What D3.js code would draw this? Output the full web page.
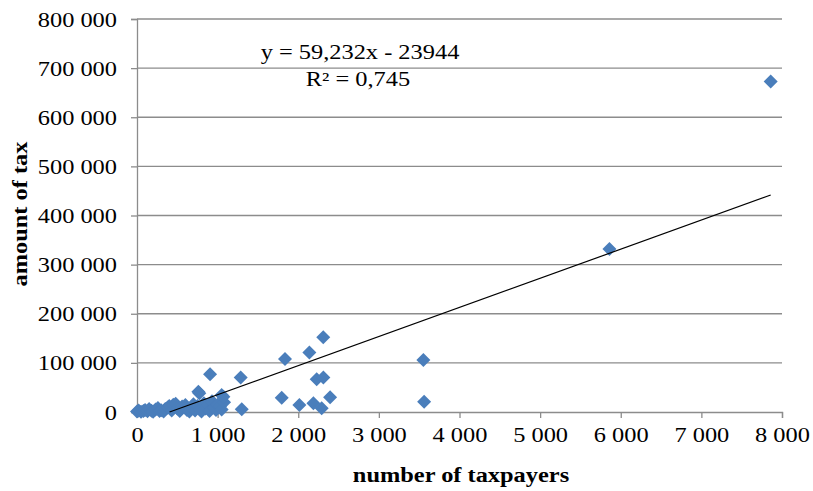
<!DOCTYPE html>
<html><head><meta charset="utf-8">
<script src="https://cdn.jsdelivr.net/npm/d3@7"></script>
<style>body{margin:0;background:#fff}svg{display:block}text{font-family:"Liberation Serif","Times New Roman",serif;fill:#000}</style>
</head><body>
<svg id="c" width="813" height="491"></svg>
<script>
const taxpayers = [0,20,50,80,100,130,150,180,200,230,260,280,300,330,350,380,400,430,450,480,500,530,560,600,620,650,680,700,720,750,780,800,830,850,880,900,930,960,980,1000,1030,1050,1080,
  761,773,906,1050,1071,1286,1299,1795,1836,2014,2138,2188,2229,2291,2312,2310,2395,3552,3561,5860,7860];
const taxAmount = [1000,3000,500,2000,4000,1500,6000,2500,500,5000,8000,2000,3500,1000,6000,9000,12000,3000,15000,17000,7000,2000,11000,14000,4000,1000,8000,16000,3000,12000,5000,1000,18000,7000,14000,2000,22000,9000,4000,15000,12000,5000,20000,
  41000,38000,77000,34500,31000,70000,5500,29000,108000,14300,121000,17700,66500,7500,70000,152000,30000,106000,21000,332000,673000];
const xTicks = [0,1000,2000,3000,4000,5000,6000,7000,8000];
const yTicks = [0,100000,200000,300000,400000,500000,600000,700000,800000];
const slope = 59.232, intercept = -23944;
const eqText = "y = 59,232x - 23944";
const r2Text = "R² = 0,745";
const xTitle = "number of taxpayers", yTitle = "amount of tax";

const SX = 1.22, FS = 20;
const svg = d3.select("#c");
const x = d3.scaleLinear().domain([0,8000]).range([137,782]);
const y = d3.scaleLinear().domain([0,800000]).range([412,19]);
const fmt = v => d3.format(",")(v).replace(/,/g," ");

function stretch(sel){
  sel.each(function(){
    const t = d3.select(this);
    const xx = +t.attr("x")||0;
    t.attr("x", xx/SX);
    const tr = t.attr("transform")||"";
    t.attr("transform", tr+` scale(${SX},1)`);
  });
}

// gridlines
svg.append("g").selectAll("line").data(yTicks.slice(1)).join("line")
  .attr("x1",137).attr("x2",782).attr("y1",d=>y(d)).attr("y2",d=>y(d))
  .attr("stroke","#8c8c8c").attr("stroke-width",1.3);

const xa = svg.append("g").attr("transform","translate(0,412)")
  .call(d3.axisBottom(x).tickValues(xTicks).tickFormat(fmt).tickSize(6).tickPadding(10));
const ya = svg.append("g").attr("transform","translate(137,0)")
  .call(d3.axisLeft(y).tickValues(yTicks).tickFormat(fmt).tickSize(6).tickPadding(14));
[xa,ya].forEach(a=>{a.select(".domain").attr("stroke","#8c8c8c").attr("stroke-width",1.3);
  a.selectAll(".tick line").attr("stroke","#8c8c8c").attr("stroke-width",1.3);
  a.selectAll("text").attr("font-size",FS).attr("font-family","Liberation Serif").attr("fill","#000");});
ya.selectAll(".tick text").attr("dy","0.35em");
stretch(xa.selectAll(".tick text"));
stretch(ya.selectAll(".tick text"));

// points
const pts = taxpayers.map((v,i)=>[v,taxAmount[i]]);
svg.append("g").selectAll("path").data(pts).join("path")
  .attr("d","M0,-7L7,0L0,7L-7,0Z").attr("fill","#4a7ebb")
  .attr("transform",d=>`translate(${x(d[0])},${y(d[1])})`);

// trend line (clipped at y=0)
const x0 = -intercept/slope, x1 = d3.max(taxpayers);
svg.append("line").attr("x1",x(x0)).attr("y1",y(slope*x0+intercept))
  .attr("x2",x(x1)).attr("y2",y(slope*x1+intercept)).attr("stroke","#000").attr("stroke-width",1.2);

const eq = svg.append("text").attr("x",360).attr("y",59).attr("text-anchor","middle").attr("font-size",FS).text(eqText);
const r2 = svg.append("text").attr("x",358).attr("y",86).attr("text-anchor","middle").attr("font-size",FS).text(r2Text);
const xt = svg.append("text").attr("x",461).attr("y",482).attr("text-anchor","middle").attr("font-size",FS).attr("font-weight","bold").text(xTitle);
const yt = svg.append("text").attr("transform","translate(27,214) rotate(-90)").attr("text-anchor","middle").attr("font-size",FS).attr("font-weight","bold").text(yTitle);
[eq,r2,xt,yt].forEach(stretch);
</script></body></html>
